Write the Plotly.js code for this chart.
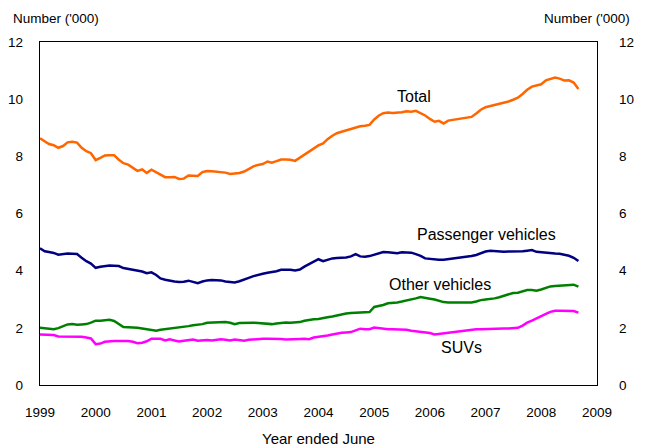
<!DOCTYPE html>
<html>
<head>
<meta charset="utf-8">
<script src="https://cdn.plot.ly/plotly-3.0.1.min.js"></script>
<style>html,body{margin:0;padding:0;background:#fff;}#chart{width:648px;height:448px;}</style>
</head>
<body>
<div id="chart"></div>
<script>
// Monthly observations, January 1999 to September 2008 (117 months)
const startYear = 1999;
const monthCount = 117;

const total = [8.63,8.51,8.43,8.39,8.30,8.36,8.49,8.51,8.48,8.30,8.18,8.11,7.87,7.95,8.03,8.04,8.04,7.88,7.76,7.71,7.60,7.49,7.54,7.42,7.53,7.45,7.35,7.27,7.27,7.28,7.21,7.22,7.33,7.33,7.31,7.45,7.49,7.48,7.47,7.46,7.43,7.38,7.40,7.42,7.47,7.57,7.65,7.70,7.73,7.82,7.78,7.83,7.89,7.89,7.88,7.84,7.95,8.04,8.17,8.28,
  8.38,8.45,8.60,8.72,8.81,8.86,8.91,8.95,9.01,9.05,9.07,9.10,9.29,9.43,9.51,9.53,9.52,9.52,9.54,9.58,9.56,9.59,9.50,9.43,9.31,9.21,9.24,9.15,9.25,9.28,9.29,9.32,9.35,9.38,9.50,9.63,9.72,9.76,9.80,9.83,9.86,9.92,9.98,10.05,10.18,10.33,10.44,10.48,10.52,10.66,10.72,10.76,10.72,10.65,10.66,10.58,10.36];

const passenger = [4.78,4.68,4.65,4.62,4.56,4.58,4.60,4.59,4.58,4.45,4.33,4.25,4.10,4.14,4.17,4.18,4.17,4.16,4.09,4.06,4.02,3.99,3.97,3.91,3.94,3.85,3.73,3.68,3.64,3.62,3.60,3.61,3.65,3.61,3.56,3.62,3.66,3.67,3.67,3.66,3.62,3.60,3.59,3.63,3.68,3.75,3.81,3.86,3.89,3.93,3.95,3.98,4.03,4.04,4.03,4.01,4.04,4.14,4.22,4.32,
  4.40,4.33,4.38,4.43,4.44,4.45,4.46,4.50,4.58,4.50,4.49,4.51,4.55,4.60,4.65,4.64,4.62,4.61,4.64,4.64,4.63,4.58,4.52,4.43,4.41,4.39,4.38,4.38,4.40,4.42,4.43,4.45,4.48,4.51,4.55,4.61,4.67,4.70,4.69,4.66,4.66,4.67,4.67,4.67,4.68,4.70,4.72,4.66,4.64,4.64,4.60,4.60,4.59,4.56,4.52,4.45,4.34];

const otherVehicles = [2.00,1.98,1.97,1.95,1.99,2.05,2.12,2.13,2.11,2.12,2.13,2.18,2.25,2.25,2.26,2.28,2.24,2.12,2.03,2.02,2.02,2.00,1.98,1.95,1.92,1.90,1.93,1.95,1.96,2.00,2.02,2.03,2.06,2.09,2.11,2.13,2.18,2.19,2.18,2.19,2.20,2.18,2.13,2.17,2.18,2.18,2.18,2.17,2.16,2.15,2.13,2.15,2.18,2.19,2.18,2.18,2.20,2.25,2.28,2.30,
  2.31,2.33,2.37,2.40,2.44,2.47,2.50,2.52,2.53,2.53,2.53,2.55,2.73,2.76,2.80,2.86,2.87,2.89,2.92,2.95,2.99,3.03,3.08,3.06,3.02,2.99,2.94,2.90,2.89,2.89,2.88,2.88,2.88,2.89,2.92,2.97,2.99,3.00,3.03,3.07,3.12,3.19,3.22,3.23,3.27,3.32,3.32,3.30,3.34,3.39,3.45,3.46,3.47,3.48,3.48,3.51,3.44];

const suvs = [1.77,1.76,1.75,1.75,1.70,1.70,1.71,1.71,1.71,1.69,1.66,1.63,1.43,1.45,1.51,1.53,1.54,1.54,1.54,1.54,1.51,1.46,1.48,1.53,1.62,1.62,1.62,1.56,1.60,1.56,1.52,1.55,1.56,1.59,1.55,1.57,1.57,1.56,1.58,1.60,1.58,1.56,1.59,1.57,1.55,1.58,1.60,1.61,1.62,1.62,1.62,1.62,1.61,1.59,1.59,1.59,1.61,1.62,1.60,1.66,
  1.68,1.71,1.73,1.77,1.81,1.83,1.84,1.85,1.91,1.97,1.95,1.95,2.01,1.98,1.96,1.95,1.95,1.95,1.95,1.93,1.90,1.88,1.87,1.86,1.82,1.77,1.79,1.81,1.83,1.86,1.88,1.90,1.92,1.94,1.95,1.95,1.96,1.97,1.97,1.98,1.98,1.98,1.98,2.00,2.08,2.18,2.25,2.32,2.39,2.49,2.56,2.60,2.60,2.60,2.60,2.59,2.53];

const yearTicks = ['1999','2000','2001','2002','2003','2004','2005','2006','2007','2008','2009'];
const yTicks = [0, 2, 4, 6, 8, 10, 12];

// month dates (domain of the series)
const months = [];
for (let i = 0; i < monthCount; i++) {
  const y = startYear + Math.floor(i / 12);
  const m = (i % 12) + 1;
  months.push(y + '-' + (m < 10 ? '0' + m : m) + '-01');
}

const FONT = '"Liberation Sans", Arial, sans-serif';
function line(y, color, name) {
  return {x: months, y: y, type: 'scatter', mode: 'lines', name: name,
    line: {color: color, width: 2.5}, hoverinfo: 'skip'};
}
const traces = [
  line(total, '#FF6600', 'Total'),
  line(passenger, '#000080', 'Passenger vehicles'),
  line(otherVehicles, '#008000', 'Other vehicles'),
  line(suvs, '#FF00FF', 'SUVs'),
  {x: months, y: total, yaxis: 'y2', type: 'scatter', mode: 'lines',
   line: {width: 0, color: 'rgba(0,0,0,0)'}, showlegend: false, hoverinfo: 'skip'}
];

const tickDates = yearTicks.map(t => t + '-01-01');

const layout = {
  width: 648, height: 448,
  margin: {l: 40, r: 51, t: 42, b: 63},
  paper_bgcolor: '#fff', plot_bgcolor: '#fff',
  showlegend: false,
  font: {family: FONT, size: 13, color: '#000'},
  xaxis: {
    type: 'date', range: ['1999-01-01', '2009-01-01'],
    tickmode: 'array', tickvals: tickDates, ticktext: yearTicks,
    showgrid: false, zeroline: false, showline: true, mirror: true,
    linecolor: '#000', linewidth: 1.3, ticks: '', ticklabelstandoff: 14,
    tickfont: {size: 13.5},
    title: {text: 'Year ended June', font: {size: 15}, standoff: 15}
  },
  yaxis: {
    range: [0, 12], tickmode: 'array', tickvals: yTicks,
    showgrid: false, zeroline: false, showline: true, mirror: true,
    linecolor: '#000', linewidth: 1.3, ticks: '', ticklabelstandoff: 13,
    tickfont: {size: 13.5}
  },
  yaxis2: {
    range: [0, 12], tickmode: 'array', tickvals: yTicks,
    overlaying: 'y', side: 'right',
    showgrid: false, zeroline: false, showline: false, ticks: '',
    ticklabelstandoff: 21, tickfont: {size: 13.5}
  },
  annotations: [
    {xref: 'paper', yref: 'paper', x: -0.052, y: 1.068, xanchor: 'left', yanchor: 'middle',
     text: "Number ('000)", showarrow: false, font: {size: 13.5}},
    {xref: 'paper', yref: 'paper', x: 1.063, y: 1.068, xanchor: 'right', yanchor: 'middle',
     text: "Number ('000)", showarrow: false, font: {size: 13.5}},
    {xref: 'x', yref: 'y', x: '2005-09-16', y: 10.1, text: 'Total', showarrow: false, font: {size: 16}},
    {xref: 'x', yref: 'y', x: '2007-01-08', y: 5.28, text: 'Passenger vehicles', showarrow: false, font: {size: 16}},
    {xref: 'x', yref: 'y', x: '2006-03-10', y: 3.51, text: 'Other vehicles', showarrow: false, font: {size: 16}},
    {xref: 'x', yref: 'y', x: '2006-07-26', y: 1.31, text: 'SUVs', showarrow: false, font: {size: 16}}
  ]
};

Plotly.newPlot('chart', traces, layout, {staticPlot: true, displayModeBar: false});
</script>
</body>
</html>
